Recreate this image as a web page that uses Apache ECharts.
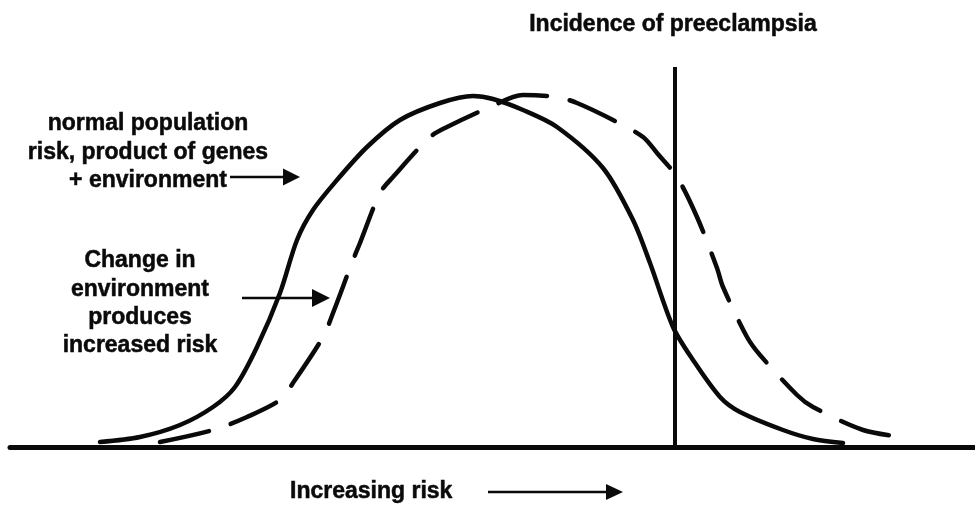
<!DOCTYPE html>
<html>
<head>
<meta charset="utf-8">
<script src="https://cdn.jsdelivr.net/npm/echarts@6/dist/echarts.min.js"></script>
<style>
html,body{margin:0;padding:0;background:#fff;}
#chart{width:975px;height:506px;}
</style>
</head>
<body>
<div id="chart"></div>
<script>
// Risk (x) and relative frequency (y)
const normalRisk = [10.0,14.0,18.0,21.3,23.5,25.7,28.0,29.7,31.3,33.7,36.7,40.0,44.0,47.3,49.3,52.3,55.7,60.3,63.3,65.0,67.3,69.3,72.0,74.0,78.3,81.3,84.3];
const normalFreq = [0.5,1.0,2.2,4.0,6.0,10.0,15.4,20.7,23.7,26.7,30.0,32.7,34.4,35.1,34.8,33.7,32.0,27.9,22.7,18.4,12.0,8.7,5.0,3.5,1.7,0.8,0.4];
const shiftedRisk = [16.0,21.3,24.7,28.0,29.3,32.3,33.3,35.3,36.0,38.0,39.3,43.0,44.7,49.0,52.3,55.7,57.7,61.3,64.3,65.7,67.7,69.7,71.7,72.3,74.7,76.0,79.7,81.3,86.3,90.3];
const shiftedFreq = [0.5,1.7,3.0,4.7,6.4,11.0,13.4,18.7,20.4,25.4,27.0,31.0,32.0,34.0,35.2,35.0,34.4,32.7,31.0,29.4,27.0,23.0,17.9,16.0,11.0,9.2,5.2,4.0,1.7,1.0];
const thresholdRisk = 67.5;
const thresholdTop = 38;

const titleText = 'Incidence of preeclampsia';
const normalLabel = ['normal population','risk, product of genes','+ environment'];
const changeLabel = ['Change in','environment','produces','increased risk'];
const axisLabel = 'Increasing risk';

const zip = (a,b) => a.map((v,i)=>[v,b[i]]);
const FONT = 'bold 23px "Liberation Sans", Arial, sans-serif';
const INK = '#0a0a0a';

function textLines(lines, cx, y0, step){
  return lines.map((t,i)=>({
    type:'text', style:{text:t, x:cx, y:y0+i*step, font:FONT, fill:INK, stroke:INK, lineWidth:0.5, align:'center', verticalAlign:'middle'}
  }));
}
function arrow(x1, x2, y, head, half){
  return [
    {type:'line', shape:{x1:x1, y1:y, x2:x2-head+1, y2:y}, style:{stroke:INK, lineWidth:2.5}},
    {type:'polygon', shape:{points:[[x2-head,y-half],[x2,y],[x2-head,y+half]]}, style:{fill:INK}}
  ];
}

const chart = echarts.init(document.getElementById('chart'));
chart.setOption({
  animation:false,
  backgroundColor:'#fff',
  grid:{left:10, right:0, top:0, bottom:59},
  xAxis:{type:'value', min:1, max:97.5, axisLine:{show:true, onZero:false, lineStyle:{color:INK, width:5}},
    axisTick:{show:false}, axisLabel:{show:false}, splitLine:{show:false}},
  yAxis:{type:'value', min:0, max:44.7, axisLine:{show:false}, axisTick:{show:false}, axisLabel:{show:false}, splitLine:{show:false}},
  series:[
    {type:'line', data:zip(normalRisk, normalFreq), smooth:0.3, symbol:'none',
      lineStyle:{color:INK, width:4.5, cap:'round'}},
    {type:'line', data:zip(shiftedRisk, shiftedFreq), smooth:0.3, symbol:'none',
      lineStyle:{color:INK, width:4.5, type:[50,23], cap:'round'}},
    {type:'line', data:[[thresholdRisk,0],[thresholdRisk,thresholdTop]], symbol:'none',
      lineStyle:{color:INK, width:4}}
  ],
  graphic:[
    {type:'text', style:{text:titleText, x:673, y:25, font:FONT, fill:INK, stroke:INK, lineWidth:0.5, align:'center', verticalAlign:'middle'}},
    ...textLines(normalLabel, 148, 124, 28.5),
    ...textLines(changeLabel, 140, 261, 28.3),
    {type:'text', style:{text:axisLabel, x:290, y:492, font:FONT, fill:INK, stroke:INK, lineWidth:0.5, align:'left', verticalAlign:'middle'}},
    ...arrow(230, 300, 177, 17, 8.5),
    ...arrow(242, 330, 298, 18, 9),
    ...arrow(488, 623, 492, 17, 8)
  ]
});
</script>
</body>
</html>
